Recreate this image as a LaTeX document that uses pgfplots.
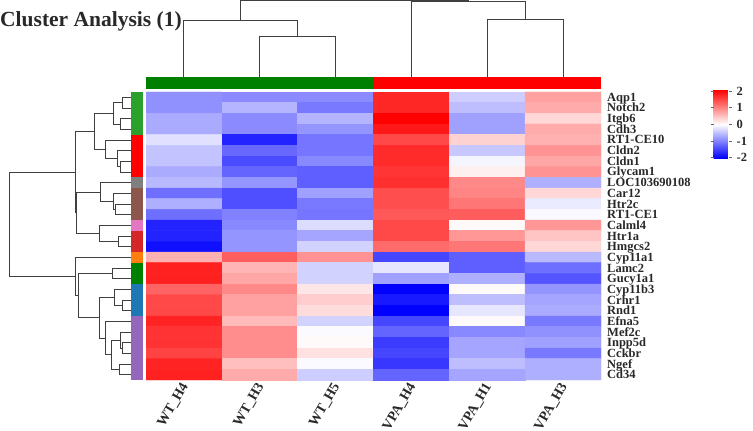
\documentclass[border=0pt]{standalone}
\usepackage{fontspec}
\setmainfont{Liberation Serif}
\usepackage{pgfplots}
\pgfplotsset{compat=1.18}
\definecolor{gA}{RGB}{44,160,44}
\definecolor{rA}{RGB}{255,0,0}
\definecolor{grA}{RGB}{127,127,127}
\definecolor{brA}{RGB}{140,86,75}
\definecolor{pkA}{RGB}{227,119,194}
\definecolor{rB}{RGB}{214,39,40}
\definecolor{orA}{RGB}{255,127,14}
\definecolor{gB}{RGB}{0,128,0}
\definecolor{blA}{RGB}{31,119,180}
\definecolor{puA}{RGB}{148,103,189}
\definecolor{txt}{RGB}{40,40,40}
\begin{document}
\begin{tikzpicture}
\begin{axis}[at={(0,0)}, anchor=south west, width=753pt, height=431pt, scale only axis,
  xmin=0, xmax=753, ymin=0, ymax=431, y dir=reverse, hide axis, clip=false,
  dend/.style={draw=black!75, line width=0.9pt, no marks}]
% title
\node[anchor=base west, inner sep=0pt, text=txt, font=\bfseries\fontsize{21.5}{21.5}\selectfont] at (axis cs:0,26.7) {Cluster Analysis (1)};
% column strip
\addplot[fill=gB, draw=none] coordinates {(146,77) (373.5,77) (373.5,89) (146,89)} --cycle;
\addplot[fill=rA, draw=none] coordinates {(373.5,77) (601,77) (601,89) (373.5,89)} --cycle;
% row strip
\addplot[fill=gA, draw=none] coordinates {(131,92) (142.7,92) (142.7,134.7) (131,134.7)} --cycle;
\addplot[fill=rA, draw=none] coordinates {(131,134.7) (142.7,134.7) (142.7,177.3) (131,177.3)} --cycle;
\addplot[fill=grA, draw=none] coordinates {(131,177.3) (142.7,177.3) (142.7,188) (131,188)} --cycle;
\addplot[fill=brA, draw=none] coordinates {(131,188) (142.7,188) (142.7,220) (131,220)} --cycle;
\addplot[fill=pkA, draw=none] coordinates {(131,220) (142.7,220) (142.7,230.7) (131,230.7)} --cycle;
\addplot[fill=rB, draw=none] coordinates {(131,230.7) (142.7,230.7) (142.7,252) (131,252)} --cycle;
\addplot[fill=orA, draw=none] coordinates {(131,252) (142.7,252) (142.7,262.7) (131,262.7)} --cycle;
\addplot[fill=gB, draw=none] coordinates {(131,262.7) (142.7,262.7) (142.7,284) (131,284)} --cycle;
\addplot[fill=blA, draw=none] coordinates {(131,284) (142.7,284) (142.7,316) (131,316)} --cycle;
\addplot[fill=puA, draw=none] coordinates {(131,316) (142.7,316) (142.7,380) (131,380)} --cycle;
% row dendrogram
\addplot[dend] coordinates {(131,97.3)(122.7,97.3)(122.7,108)(131,108)};
\addplot[dend] coordinates {(131,118.7)(120,118.7)(120,129.3)(131,129.3)};
\addplot[dend] coordinates {(122.7,102.7)(113.3,102.7)(113.3,124)(120,124)};
\addplot[dend] coordinates {(131,161.3)(120,161.3)(120,172)(131,172)};
\addplot[dend] coordinates {(131,150.7)(117.7,150.7)(117.7,166.7)(120,166.7)};
\addplot[dend] coordinates {(131,140)(105.7,140)(105.7,158.7)(117.7,158.7)};
\addplot[dend] coordinates {(113.3,113.3)(94.3,113.3)(94.3,149.3)(105.7,149.3)};
\addplot[dend] coordinates {(131,204)(115,204)(115,214.7)(131,214.7)};
\addplot[dend] coordinates {(131,193.3)(113.3,193.3)(113.3,209.3)(115,209.3)};
\addplot[dend] coordinates {(131,182.7)(100.7,182.7)(100.7,201.3)(113.3,201.3)};
\addplot[dend] coordinates {(131,236)(118.3,236)(118.3,246.7)(131,246.7)};
\addplot[dend] coordinates {(131,225.3)(99.3,225.3)(99.3,241.3)(118.3,241.3)};
\addplot[dend] coordinates {(100.7,192)(76.7,192)(76.7,233.3)(99.3,233.3)};
\addplot[dend] coordinates {(94.3,131.3)(75,131.3)(75,212.7)(76.7,212.7)};
\addplot[dend] coordinates {(131,268)(112.3,268)(112.3,278.7)(131,278.7)};
\addplot[dend] coordinates {(131,300)(122.3,300)(122.3,310.7)(131,310.7)};
\addplot[dend] coordinates {(131,289.3)(114,289.3)(114,305.3)(122.3,305.3)};
\addplot[dend] coordinates {(131,342.7)(122.3,342.7)(122.3,353.3)(131,353.3)};
\addplot[dend] coordinates {(131,332)(120,332)(120,348)(122.3,348)};
\addplot[dend] coordinates {(131,364)(119.3,364)(119.3,374.7)(131,374.7)};
\addplot[dend] coordinates {(120,340)(111.7,340)(111.7,369.3)(119.3,369.3)};
\addplot[dend] coordinates {(131,321.3)(105.7,321.3)(105.7,354.7)(111.7,354.7)};
\addplot[dend] coordinates {(114,297.3)(99,297.3)(99,338)(105.7,338)};
\addplot[dend] coordinates {(112.3,273.3)(78.3,273.3)(78.3,317.7)(99,317.7)};
\addplot[dend] coordinates {(131,257.3)(75,257.3)(75,295.5)(78.3,295.5)};
\addplot[dend] coordinates {(75,172)(9.3,172)(9.3,276.4)(75,276.4)};
% column dendrogram
\addplot[dend] coordinates {(259.7,77)(259.7,36.7)(335.6,36.7)(335.6,77)};
\addplot[dend] coordinates {(183.9,77)(183.9,20)(297.6,20)(297.6,36.7)};
\addplot[dend] coordinates {(487.3,77)(487.3,19.3)(563.1,19.3)(563.1,77)};
\addplot[dend] coordinates {(411.4,77)(411.4,1.8)(525.2,1.8)(525.2,19.3)};
\addplot[dend] coordinates {(240.8,20)(240.8,0.6)(468.3,0.6)(468.3,1.8)};
\end{axis}
\begin{axis}[at={(146pt,51pt)}, anchor=south west, width=455pt, height=288pt, scale only axis,
  xmin=-0.5, xmax=5.5, ymin=-0.5, ymax=26.5, y dir=reverse, enlargelimits=false,
  axis line style={draw=none}, major tick length=0pt, tick style={draw=none},
  xtick={0,...,5},
  xticklabels={WT\_H4,WT\_H3,WT\_H5,VPA\_H4,VPA\_H1,VPA\_H3},
  xticklabel style={yshift=-4pt, xshift=1pt, rotate=60, anchor=east, inner sep=0pt, text height=8pt, text depth=0pt, text=txt, font=\bfseries\fontsize{14}{14}\selectfont},
  ytick={0,...,26},
  yticklabels={Aqp1,Notch2,Itgb6,Cdh3,RT1-CE10,Cldn2,Cldn1,Glycam1,LOC103690108,Car12,Htr2c,RT1-CE1,Calml4,Htr1a,Hmgcs2,Cyp11a1,Lamc2,Gucy1a1,Cyp11b3,Crhr1,Rnd1,Efna5,Mef2c,Inpp5d,Cckbr,Ngef,Cd34},
  yticklabel pos=right,
  yticklabel style={xshift=6pt, anchor=west, inner sep=0pt, text height=8pt, text depth=0pt, text=txt, font=\bfseries\fontsize{12.5}{12.5}\selectfont},
  colormap={bwr}{rgb255(0pt)=(0,0,255) rgb255(203pt)=(255,255,255) rgb255(409pt)=(255,0,0)},
  point meta min=-2.03, point meta max=2.06,
  colorbar,
  colorbar style={at={(parent axis.north east)}, anchor=north west, xshift=104pt, yshift=2pt,
    width=15pt, height=68.3pt, scale only axis, axis line style={draw=none},
    ytick={-2,-1,0,1,2}, yticklabels={-2,-1,0,1,2}, yticklabel pos=right,
    tick align=outside, major tick length=3pt, ytick style={draw=black!60, line width=0.6pt},
    yticklabel style={xshift=4pt, anchor=west, inner sep=1pt, text=txt, font=\bfseries\fontsize{12.5}{12.5}\selectfont}},
]
\addplot[matrix plot*, mesh/cols=6, point meta=explicit] table[row sep=\\, meta=z] {
x y z\\
0 0 -0.88\\ 1 0 -0.92\\ 2 0 -0.92\\ 3 0 1.75\\ 4 0 -0.40\\ 5 0 0.76\\
0 1 -0.88\\ 1 1 -0.60\\ 2 1 -1.07\\ 3 1 1.75\\ 4 1 -0.52\\ 5 1 0.68\\
0 2 -0.68\\ 1 2 -0.92\\ 2 2 -0.60\\ 3 2 2.05\\ 4 2 -0.76\\ 5 2 0.32\\
0 3 -0.68\\ 1 3 -0.92\\ 2 3 -0.84\\ 3 3 1.87\\ 4 3 -0.76\\ 5 3 0.68\\
0 4 -0.24\\ 1 4 -1.75\\ 2 4 -1.10\\ 3 4 1.47\\ 4 4 0.36\\ 5 4 0.64\\
0 5 -0.48\\ 1 5 -1.20\\ 2 5 -1.10\\ 3 5 1.71\\ 4 5 -0.44\\ 5 5 0.88\\
0 6 -0.48\\ 1 6 -1.43\\ 2 6 -0.95\\ 3 6 1.71\\ 4 6 -0.08\\ 5 6 0.72\\
0 7 -0.68\\ 1 7 -1.23\\ 2 7 -1.27\\ 3 7 1.63\\ 4 7 0.12\\ 5 7 0.88\\
0 8 -0.56\\ 1 8 -0.84\\ 2 8 -1.27\\ 3 8 1.67\\ 4 8 0.95\\ 5 8 -0.64\\
0 9 -1.15\\ 1 9 -1.40\\ 2 9 -0.76\\ 3 9 1.43\\ 4 9 0.99\\ 5 9 0.32\\
0 10 -0.64\\ 1 10 -1.40\\ 2 10 -1.07\\ 3 10 1.43\\ 4 10 1.11\\ 5 10 -0.16\\
0 11 -1.15\\ 1 11 -1.00\\ 2 11 -1.10\\ 3 11 1.35\\ 4 11 1.31\\ 5 11 -0.05\\
0 12 -1.75\\ 1 12 -0.95\\ 2 12 -0.28\\ 3 12 1.47\\ 4 12 0.04\\ 5 12 0.84\\
0 13 -1.75\\ 1 13 -0.84\\ 2 13 -0.72\\ 3 13 1.47\\ 4 13 0.84\\ 5 13 0.48\\
0 14 -1.90\\ 1 14 -0.84\\ 2 14 -0.36\\ 3 14 1.20\\ 4 14 1.11\\ 5 14 0.32\\
0 15 0.64\\ 1 15 1.30\\ 2 15 0.88\\ 3 15 -1.47\\ 4 15 -1.27\\ 5 15 -0.56\\
0 16 1.80\\ 1 16 0.60\\ 2 16 -0.36\\ 3 16 -0.20\\ 4 16 -1.27\\ 5 16 -1.15\\
0 17 1.80\\ 1 17 0.72\\ 2 17 -0.36\\ 3 17 -0.76\\ 4 17 -0.64\\ 5 17 -1.35\\
0 18 1.25\\ 1 18 0.95\\ 2 18 0.20\\ 3 18 -2.03\\ 4 18 0.04\\ 5 18 -0.84\\
0 19 1.48\\ 1 19 0.76\\ 2 19 0.40\\ 3 19 -1.83\\ 4 19 -0.52\\ 5 19 -0.72\\
0 20 1.48\\ 1 20 0.76\\ 2 20 0.28\\ 3 20 -2.03\\ 4 20 -0.20\\ 5 20 -0.68\\
0 21 1.78\\ 1 21 0.56\\ 2 21 -0.36\\ 3 21 -1.47\\ 4 21 0.04\\ 5 21 -1.07\\
0 22 1.65\\ 1 22 0.92\\ 2 22 -0.04\\ 3 22 -1.23\\ 4 22 -0.95\\ 5 22 -0.88\\
0 23 1.65\\ 1 23 0.92\\ 2 23 0.04\\ 3 23 -1.55\\ 4 23 -0.72\\ 5 23 -0.76\\
0 24 1.52\\ 1 24 0.92\\ 2 24 0.24\\ 3 24 -1.47\\ 4 24 -0.72\\ 5 24 -1.07\\
0 25 1.78\\ 1 25 0.52\\ 2 25 -0.04\\ 3 25 -1.59\\ 4 25 -0.52\\ 5 25 -0.64\\
0 26 1.80\\ 1 26 0.68\\ 2 26 -0.40\\ 3 26 -1.23\\ 4 26 -0.72\\ 5 26 -0.64\\
};
\end{axis}
\pgfresetboundingbox
\useasboundingbox (0,0) rectangle (753pt,431pt);
\end{tikzpicture}
\end{document}
